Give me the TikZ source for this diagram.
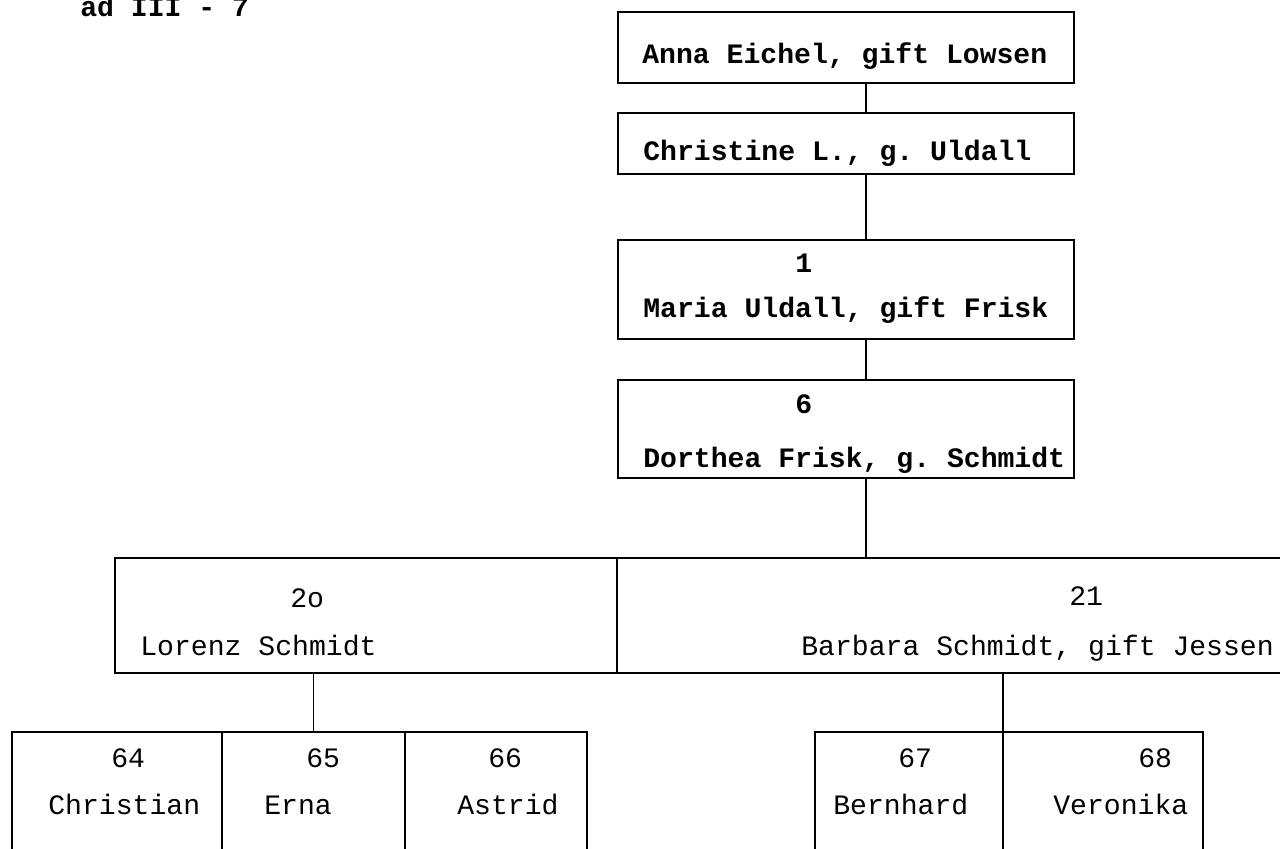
\documentclass[tikz,border=0pt]{standalone}
\usepackage{fontspec}
\setmonofont{Liberation Mono}
\usetikzlibrary{positioning}

\tikzset{
  elderbox/.style={draw, line width=1.1pt, inner sep=0pt, outer sep=0pt, anchor=north west, minimum width=9.12cm},
  kinbox/.style={draw, line width=1.1pt, inner sep=0pt, outer sep=0pt, anchor=north west, minimum height=2.9cm},
  link/.style={line width=1.1pt},
  heavy/.style={anchor=base west, inner sep=0pt, font=\ttfamily\bfseries\fontsize{16}{19}\selectfont},
  light/.style={anchor=base west, inner sep=0pt, font=\ttfamily\fontsize{16}{19}\selectfont},
}

\begin{document}
\begin{tikzpicture}
	\useasboundingbox (0,0) rectangle (25.6,16.96);
	\clip (0,0) rectangle (25.6,16.96);
	
	\node[heavy] (title) at (1.60,16.62) {ad III - 7};
	
	% line of mothers
	\node[elderbox, minimum height=1.42cm] (anna) at (12.36,16.72) {};
	\node[elderbox, minimum height=1.22cm] (christine) at (12.36,14.70) {};
	\node[elderbox, minimum height=1.98cm] (maria) at (12.36,12.16) {};
	\node[elderbox, minimum height=1.96cm] (dorthea) at (12.36,9.36) {};
	
	\node[heavy] (annaName) at (12.84,15.68) {Anna Eichel, gift Lowsen};
	\node[heavy] (christineName) at (12.86,13.74) {Christine L., g. Uldall};
	\node[heavy] (mariaNo) at (15.90,11.52) {1};
	\node[heavy] (mariaName) at (12.86,10.62) {Maria Uldall, gift Frisk};
	\node[heavy] (dortheaNo) at (15.90,8.70) {6};
	\node[heavy] (dortheaName) at (12.86,7.62) {Dorthea Frisk, g. Schmidt};
	
	% children
	\node[kinbox, minimum width=10.04cm, minimum height=2.30cm] (lorenz) at (2.30,5.80) {};
	\node[kinbox, minimum width=14.30cm, minimum height=2.30cm] (barbara) at (lorenz.north east) {};
	
	\node[light] (lorenzNo) at (5.80,4.82) {2o};
	\node[light] (lorenzName) at (2.80,3.86) {Lorenz Schmidt};
	\node[light] (barbaraNo) at (21.38,4.86) {21};
	\node[light] (barbaraName) at (16.02,3.86) {Barbara Schmidt, gift Jessen};
	
	% grandchildren
	\node[kinbox, minimum width=4.20cm] (christian) at (0.24,2.32) {};
	\node[kinbox, minimum width=3.66cm] (erna) at (christian.north east) {};
	\node[kinbox, minimum width=3.64cm] (astrid) at (erna.north east) {};
	\node[kinbox, minimum width=3.76cm] (bernhard) at (16.30,2.32) {};
	\node[kinbox, minimum width=4.00cm] (veronika) at (bernhard.north east) {};
	
	\foreach \n/\no/\xno/\xname/\name in {christian/64/2.22/0.96/Christian, erna/65/6.12/5.28/Erna, astrid/66/9.76/9.14/Astrid, bernhard/67/17.96/16.66/Bernhard, veronika/68/22.76/21.06/Veronika}{
		\node[light] (\n No) at (\xno,1.62) {\no};
		\node[light] (\n Name) at (\xname,0.68) {\name};
	}
	
	% connectors
	\coordinate (stem) at (17.32,0);
	\foreach \a/\b in {anna/christine, christine/maria, maria/dorthea, dorthea/barbara}{
		\draw[link] (stem |- \a.south) -- (stem |- \b.north);
	}
	\draw[link] (erna.north |- lorenz.south) -- (erna.north);
	\draw[link] (bernhard.north east |- barbara.south) -- (bernhard.north east);
\end{tikzpicture}
\end{document}
